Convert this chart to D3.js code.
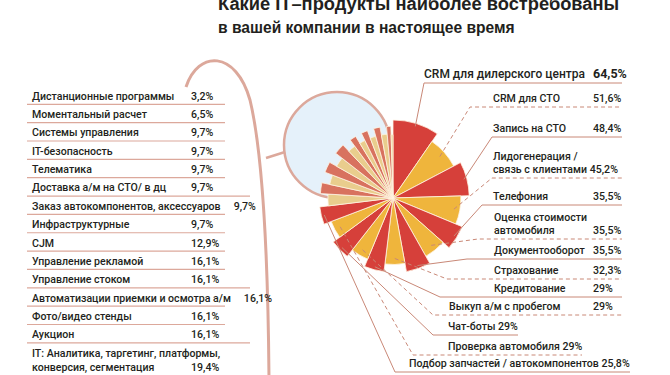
<!DOCTYPE html>
<html>
<head>
<meta charset="utf-8">
<script src="https://cdn.jsdelivr.net/npm/d3@7"></script>
<style>
  body { margin: 0; background: #fff; }
  svg { display: block; }
  text { font-family: Roboto, "Open Sans", sans-serif; fill: #231f20; }
</style>
</head>
<body>
<script>
// правая группа (по убыванию, по часовой стрелке от 12 часов)
var rightCats = [
  "CRM для дилерского центра",
  "CRM для СТО",
  "Запись на СТО",
  "Лидогенерация /\nсвязь с клиентами",
  "Телефония",
  "Оценка стоимости\nавтомобиля",
  "Документооборот",
  "Страхование",
  "Кредитование",
  "Выкуп а/м с пробегом",
  "Чат-боты",
  "Проверка автомобиля",
  "Подбор запчастей / автокомпонентов"
];
var rightValues = [64.5, 51.6, 48.4, 45.2, 35.5, 35.5, 35.5, 32.3, 29, 29, 29, 29, 25.8];

// левая таблица (сверху вниз)
var leftCats = [
  "Дистанционные программы",
  "Моментальный расчет",
  "Системы управления",
  "IT-безопасность",
  "Телематика",
  "Доставка а/м на СТО/ в дц",
  "Заказ автокомпонентов, аксессуаров",
  "Инфраструктурные",
  "CJM",
  "Управление рекламой",
  "Управление стоком",
  "Автоматизации приемки и осмотра а/м",
  "Фото/видео стенды",
  "Аукцион",
  "IT: Аналитика, таргетинг, платформы,\nконверсия, сегментация"
];
var leftValues = [3.2, 6.5, 9.7, 9.7, 9.7, 9.7, 9.7, 9.7, 12.9, 16.1, 16.1, 16.1, 16.1, 16.1, 19.4];

var titleLines = ["Какие IT–продукты наиболее востребованы", "в вашей компании в настоящее время"];

// раскладка подписей справа
var rTextX  = [424, 493, 493, 493, 493, 494, 494, 494, 494, 449, 448, 448, 409];
var rLineY  = [83, 107, 137, 178, 205, 239, 259, 279, 297, 315, 335, 355, 372];
var rLineX0 = [424, 470, 492, 492, 482, 478, 467, 447, 440, 433, 433, 413, 395];
var rLineX1 = [622, 622, 622, 622, 622, 622, 622, 622, 622, 622, 518, 582, 630];
var rValX   = [593, 593, 593, null, 593, 593, 593, 593, 593, 593, null, null, null];

var fmt = function(v) { return String(v).replace(".", ",") + "%"; };

var width = 670, height = 375;
var svg = d3.select("body").append("svg")
            .attr("width", width)
            .attr("height", height);

// заголовок
svg.append("text")
   .attr("x", 218).attr("y", 10)
   .style("font-family", "'Liberation Sans', Arial, sans-serif")
   .style("font-weight", 700).style("font-size", "18.3px")
   .text(titleLines[0]);
svg.append("text")
   .attr("x", 218).attr("y", 33)
   .style("font-family", "'Liberation Sans', Arial, sans-serif")
   .style("font-weight", 700).style("font-size", "15.6px")
   .text(titleLines[1]);

var rose = "#dca89b";
var leader = "#c98877";

// лупа
svg.append("circle")
   .attr("cx", 337).attr("cy", 145).attr("r", 53)
   .attr("fill", "#e5f1fa")
   .attr("stroke", rose).attr("stroke-width", 2.5);

// скобка
svg.append("path")
   .attr("d", "M186,87 C198,50 236,50 250,100 C262,150 268,250 269,380")
   .attr("fill", "none").attr("stroke", rose).attr("stroke-width", 3);
svg.append("line")
   .attr("x1", 266).attr("y1", 158).attr("x2", 285).attr("y2", 152)
   .attr("stroke", rose).attr("stroke-width", 2.5);

// диаграмма
var cx = 393, cy = 198;
var items = rightCats.map(function(c, i) { return { cat: c, value: rightValues[i], side: "r" }; })
  .concat(leftCats.map(function(c, i) { return { cat: c, value: leftValues[i], side: "l" }; }).reverse());

var pie = d3.pie().sort(null).value(function(d) { return d.value; });
var arcs = pie(items);

var rScale = d3.scaleLinear()
               .domain([0, d3.max(items, function(d) { return d.value; })])
               .range([63, 70]);

arcs.forEach(function(a, i) {
  a.outer = rScale(a.data.value) + (i % 2 === 0 ? 8 : 0);
  a.dark = (i % 2 === 0);
});

var arc = d3.arc().innerRadius(0).outerRadius(function(d) { return d.outer; });

var g = svg.append("g").attr("transform", "translate(" + cx + "," + cy + ")");
g.selectAll("path")
 .data(arcs)
 .enter()
 .append("path")
 .attr("d", arc)
 .attr("fill", function(d) {
   if (d.data.side === "r") return d.dark ? "#d6403a" : "#efb53c";
   return d.dark ? "#d8725f" : "#e9cd8d";
 })
 .attr("stroke", "#fff4e2")
 .attr("stroke-width", 0.8);

// подписи справа
rightCats.forEach(function(c, i) {
  var a = arcs[i];
  var mid = (a.startAngle + a.endAngle) / 2;
  var r0 = a.outer - (a.dark ? 3 : 6);
  var px = cx + r0 * Math.sin(mid), py = cy - r0 * Math.cos(mid);
  var dash = a.dark ? null : "4,3";

  svg.append("polyline")
     .attr("points", [[px, py], [rLineX0[i], rLineY[i]], [rLineX1[i], rLineY[i]]].join(" "))
     .attr("fill", "none")
     .attr("stroke", leader).attr("stroke-width", 1)
     .attr("stroke-dasharray", dash);

  var big = (i === 0);
  var lines = c.split("\n");
  var base = rLineY[i] - 5;
  if (rValX[i] === null) lines[lines.length - 1] += " " + fmt(rightValues[i]);
  lines.forEach(function(t, k) {
    svg.append("text")
       .attr("x", rTextX[i])
       .attr("y", base - (lines.length - 1 - k) * 13)
       .style("font-size", big ? "12px" : "10.6px")
       .style("font-weight", 500)
       .text(t);
  });
  if (rValX[i] !== null) {
    svg.append("text")
       .attr("x", rValX[i]).attr("y", base)
       .style("font-size", big ? "12.5px" : "10.6px")
       .style("font-weight", big ? 700 : 500)
       .text(fmt(rightValues[i]));
  }
});

// таблица слева
var rowY = d3.scaleLinear().domain([0, 1]).range([95.7, 114.05]);
leftCats.forEach(function(c, i) {
  var yc = rowY(i);
  var lines = c.split("\n");
  var lastEnd = 0;
  lines.forEach(function(t, k) {
    var tx = svg.append("text")
       .attr("x", 32).attr("y", yc + 4 + k * 14.5)
       .style("font-size", "10.6px")
       .style("font-weight", 500)
       .text(t);
    lastEnd = 32 + tx.node().getComputedTextLength();
  });
  var vx = lastEnd > 180 && lines.length === 1 ? lastEnd + 13 : 191;
  svg.append("text")
     .attr("x", vx).attr("y", yc + 4 + (lines.length - 1) * 14.5)
     .style("font-size", "10.6px")
     .style("font-weight", 500)
     .text(fmt(leftValues[i]));

  var long = (i + 1 < leftCats.length && leftCats[i + 1].length > 33);
  svg.append("line")
     .attr("x1", 27).attr("x2", long ? 250 : 225)
     .attr("y1", yc + 8.6 + (lines.length - 1) * 14.5)
     .attr("y2", yc + 8.6 + (lines.length - 1) * 14.5)
     .attr("stroke", rose).attr("stroke-width", 1.2);
});
</script>
</body>
</html>
